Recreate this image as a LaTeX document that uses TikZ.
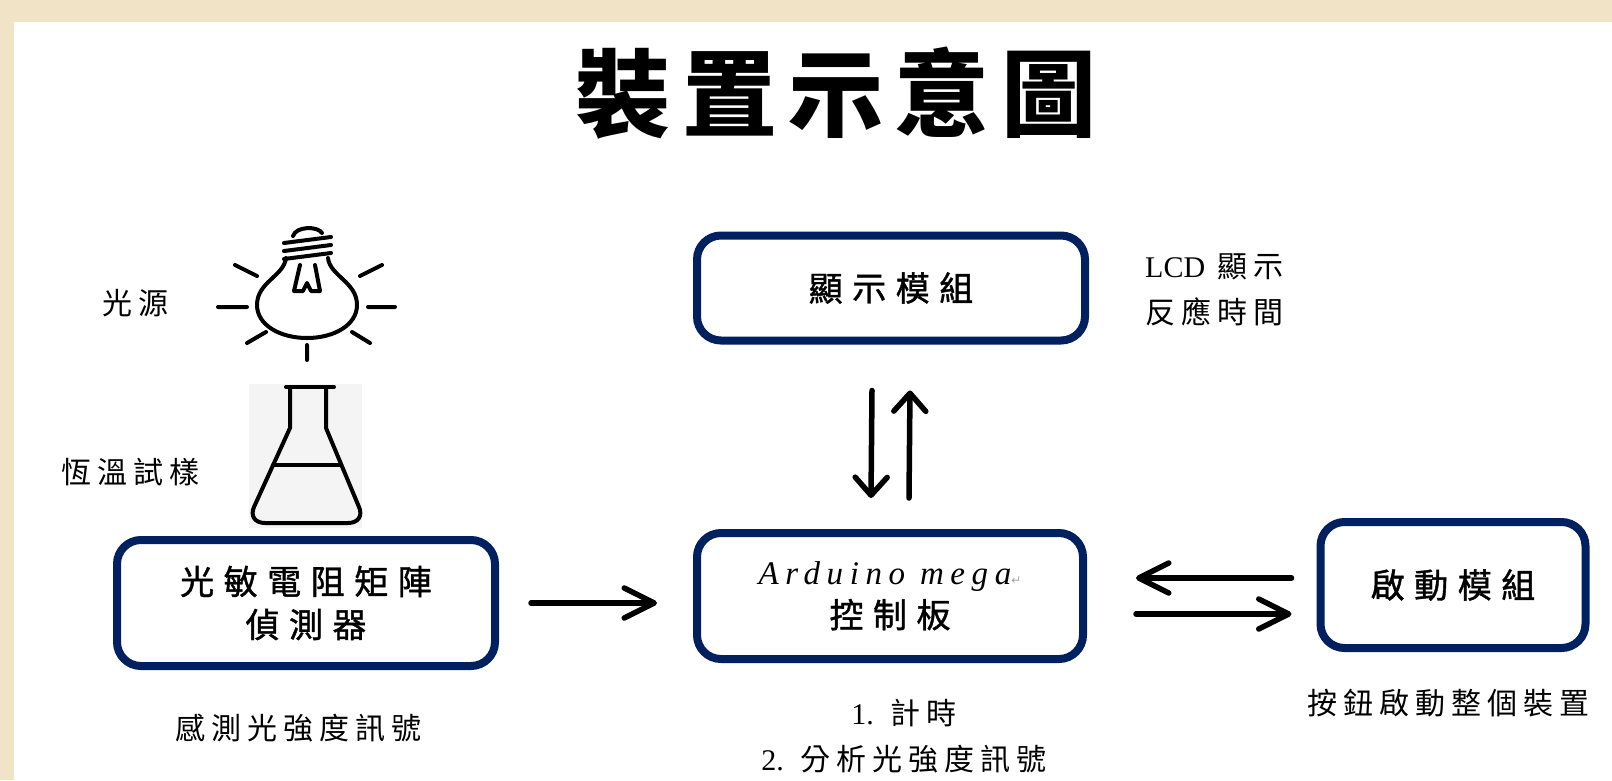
\documentclass[tikz,border=0pt]{standalone}
\usepackage{fontspec}
\setmainfont{Liberation Serif}
\newfontfamily\cjkbox{Noto Sans CJK TC}[LetterSpace=28,FakeBold=1.2]
\newfontfamily\cjklab{Noto Sans CJK TC}[LetterSpace=20]
\newfontfamily\titlefont{Noto Sans CJK TC}[LetterSpace=12]
\newfontfamily\symfont{DejaVu Sans}
\usepackage{tikz}
\usetikzlibrary{calc,arrows.meta}
\definecolor{navy}{HTML}{002060}
\definecolor{paper}{HTML}{F1E3C6}
\definecolor{flaskbg}{HTML}{F4F4F4}
\tikzset{
  module/.style={draw=navy, line width=8pt, rounded corners=24pt, inner sep=0pt, align=center, font=\cjkbox\fontsize{34}{43}\selectfont},
  lab/.style={inner sep=0pt, font=\cjklab\fontsize{30}{46}\selectfont},
  flow/.style={line width=5.5pt, line cap=round, -{Straight Barb[length=30pt,width=30pt,round]}},
  vflow/.style={line width=5.5pt, line cap=round, -{Straight Barb[length=18pt,width=32pt,round]}},
  icon/.style={line width=4pt, line cap=round, line join=round}
}

\begin{document}
\begin{tikzpicture}[x=1pt,y=-1pt]
  \useasboundingbox (0,0) rectangle (1612,780);
  \fill[white] (0,0) rectangle (1612,780);
  \fill[paper] (0,0) rectangle (1612,22);
  \fill[paper] (0,0) rectangle (14,780);

  \node[inner sep=0pt, font=\titlefont\bfseries\fontsize{95}{100}\selectfont] (T) at (836,93) {裝置示意圖};

  \draw[icon] (286,258) .. controls (284,276) and (257,282) .. (257,305) .. controls (257,325) and (280,338) .. (307,338) .. controls (334,338) and (357,325) .. (357,305) .. controls (357,282) and (330,276) .. (328,258);
  \draw[icon] (300,265) -- (294,291) -- (303,291) -- (307,283) -- (311,291) -- (320,291) -- (315,265);
  \draw[icon] (284,243) -- (331,237) (284,251) -- (331,245) (284,259) -- (331,253);
  \draw[icon] (293,236) .. controls (296,226) and (318,226) .. (322,233);
  \draw[icon] (218,307) -- (247,307) (368,307) -- (395,307) (307,345) -- (307,360)
    (235,265) -- (257,276) (360,276) -- (382,265) (247,343) -- (266,332) (352,332) -- (370,343);

  \fill[flaskbg] (249,384) rectangle (362,528);
  \draw[icon] (286,387) -- (334,387);
  \draw[icon] (290,387) -- (290,428) -- (254,507) .. controls (250,516) and (255,523) .. (265,523) -- (348,523) .. controls (358,523) and (363,516) .. (359,507) -- (326,428) -- (326,387);
  \draw[icon] (273,465) -- (341,465);

  \node[lab] (srcLab) at (135,303) {光源};
  \node[lab] (smpLab) at (130,472) {恆溫試樣};

  \node[module, minimum width=378pt, minimum height=126pt] (det) at (306,603) {光敏電阻矩陣\\偵測器};
  \node[module, minimum width=386pt, minimum height=126pt] (ard) at (890,596)
    {{\rmfamily\itshape\addfontfeatures{LetterSpace=20}\fontsize{33}{43}\selectfont Arduino mega}{\symfont\fontsize{12}{12}\selectfont\color{gray!70}↵}\\控制板};
  \node[module, minimum width=388pt, minimum height=105pt] (disp) at (891,288) {顯示模組};
  \node[module, minimum width=265pt, minimum height=126pt] (start) at (1453,585) {啟動模組};

  \node[lab] (detLab) at (298,728) {感測光強度訊號};
  \node[lab, align=center] (ardLab) at (904,736) {{\rmfamily 1.} 計時\\{\rmfamily 2.} 分析光強度訊號};
  \node[lab, anchor=west, align=left] (dispLab) at (1145,290) {{\rmfamily LCD} 顯示\\反應時間};
  \node[lab] (startLab) at (1448,703) {按鈕啟動整個裝置};

  \draw[flow] ($(det.east)+(32,0)$) -- ($(det.east -| ard.west)+(-36,0)$);
  \draw[vflow] ($(disp.south)+(-19,46)$) -- ($(ard.north)+(-19,-31)$);
  \draw[vflow] ($(ard.north)+(19,-31)$) -- ($(disp.south)+(19,46)$);
  \draw[flow] ($(start.west)+(-25,-7)$) -- ($(ard.east |- start.west)+(49,-7)$);
  \draw[flow] ($(ard.east |- start.west)+(49,29)$) -- ($(start.west)+(-25,29)$);
\end{tikzpicture}
\end{document}
